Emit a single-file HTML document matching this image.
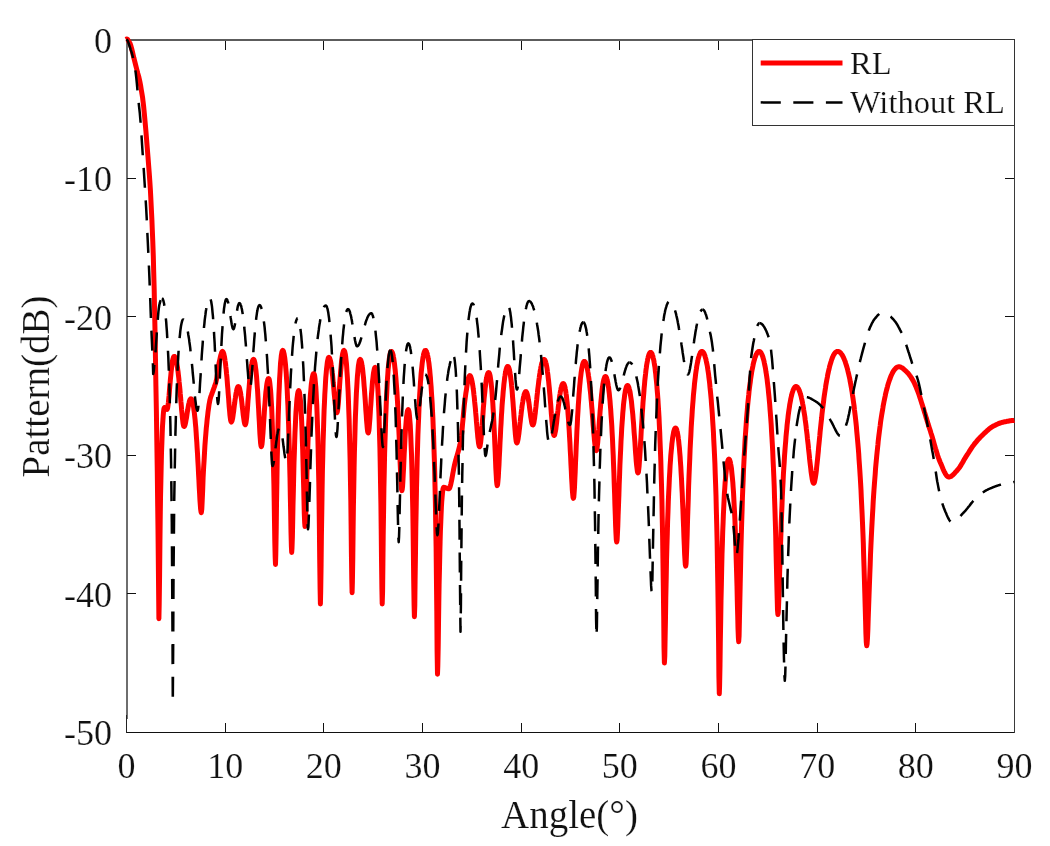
<!DOCTYPE html>
<html><head><meta charset="utf-8"><style>
html,body{margin:0;padding:0;background:#fff;}
svg{display:block;will-change:transform;font-family:"Liberation Serif", serif;fill:#000;}
text{font-family:"Liberation Serif", serif;fill:#111;stroke:#fff;stroke-width:0.2px;}
</style></head><body>
<svg width="1050" height="846" viewBox="0 0 1050 846"><rect width="1050" height="846" fill="#fff"/><rect x="126" y="39" width="889" height="2" fill="#5c5c5c"/><rect x="126" y="732" width="889" height="1" fill="#111"/><rect x="126" y="39" width="2" height="680" fill="#6e6e6e"/><rect x="126" y="715" width="1" height="18" fill="#222"/><rect x="1014" y="39" width="1" height="694" fill="#3a3a3a"/><rect x="225" y="723" width="1" height="9" fill="#111"/><rect x="225" y="41" width="1" height="9" fill="#111"/><rect x="323" y="723" width="1" height="9" fill="#111"/><rect x="323" y="41" width="1" height="9" fill="#111"/><rect x="422" y="723" width="1" height="9" fill="#111"/><rect x="422" y="41" width="1" height="9" fill="#111"/><rect x="521" y="723" width="1" height="9" fill="#111"/><rect x="521" y="41" width="1" height="9" fill="#111"/><rect x="619" y="723" width="1" height="9" fill="#111"/><rect x="619" y="41" width="1" height="9" fill="#111"/><rect x="718" y="723" width="1" height="9" fill="#111"/><rect x="718" y="41" width="1" height="9" fill="#111"/><rect x="817" y="723" width="1" height="9" fill="#111"/><rect x="817" y="41" width="1" height="9" fill="#111"/><rect x="915" y="723" width="1" height="9" fill="#111"/><rect x="915" y="41" width="1" height="9" fill="#111"/><rect x="127" y="178" width="9" height="1" fill="#111"/><rect x="1005" y="178" width="9" height="1" fill="#111"/><rect x="127" y="316" width="9" height="1" fill="#111"/><rect x="1005" y="316" width="9" height="1" fill="#111"/><rect x="127" y="455" width="9" height="1" fill="#111"/><rect x="1005" y="455" width="9" height="1" fill="#111"/><rect x="127" y="593" width="9" height="1" fill="#111"/><rect x="1005" y="593" width="9" height="1" fill="#111"/><defs><clipPath id="c"><rect x="120" y="30" width="895" height="703"/></clipPath></defs><g clip-path="url(#c)" fill="none" stroke-linejoin="round"><path d="M125.8 39.5L126.2 39.3L126.7 39.0L127.3 39.1L127.8 39.7L128.4 40.7L129.0 41.8L129.6 42.7L130.2 43.8L130.9 45.8L131.8 49.2L132.8 53.4L133.8 57.7L134.8 61.6L135.8 65.6L136.8 69.5L137.8 73.4L138.9 77.3L139.8 81.3L140.6 85.5L141.3 89.8L142.0 94.0L142.6 97.6L143.0 101.1L143.6 106.0L144.3 113.3L145.1 122.1L145.9 131.0L146.6 139.7L147.3 148.4L148.0 157.0L148.6 165.0L149.2 172.7L149.8 181.0L150.4 190.2L150.9 199.9L151.4 210.0L151.9 219.9L152.3 230.0L152.8 242.0L153.3 256.0L153.7 271.8L154.2 290.0L154.6 311.3L155.1 335.1L155.5 360.0L155.9 385.6L156.4 412.2L156.8 440.0L157.3 472.6L157.7 506.3L158.0 530.0L158.9 618.7L159.2 604.0L159.6 574.2L159.9 544.5L160.2 519.1L160.5 497.9L160.9 480.2L161.2 465.4L161.5 452.9L161.9 442.4L162.2 433.6L162.5 426.3L162.9 420.4L163.2 415.6L163.5 412.0L163.8 409.5L164.2 408.0L164.5 407.5L164.8 407.5L165.0 407.7L165.2 407.9L165.5 408.2L165.8 408.5L166.0 408.8L166.2 409.1L166.5 409.3L166.8 409.5L167.0 409.5L167.3 409.0L167.7 407.6L168.0 405.4L168.4 402.5L168.7 399.1L169.1 395.3L169.4 391.3L169.7 387.2L170.1 383.1L170.4 379.2L170.8 375.4L171.1 372.0L171.5 368.8L171.8 365.9L172.1 363.4L172.5 361.3L172.8 359.5L173.2 358.2L173.5 357.2L173.9 356.6L174.2 356.4L174.6 356.5L174.9 356.9L175.3 357.6L175.6 358.5L176.0 359.7L176.3 361.1L176.7 362.8L177.0 364.7L177.4 367.0L177.7 369.4L178.1 372.2L178.4 375.1L178.8 378.3L179.1 381.8L179.5 385.4L179.9 389.2L180.2 393.2L180.6 397.3L180.9 401.5L181.3 405.6L181.6 409.7L182.0 413.5L182.3 417.1L182.7 420.3L183.0 422.9L183.4 424.9L183.7 426.1L184.1 426.5L184.4 426.3L184.7 425.7L185.1 424.8L185.4 423.5L185.7 422.0L186.0 420.2L186.4 418.3L186.7 416.3L187.0 414.2L187.3 412.1L187.7 410.1L188.0 408.1L188.3 406.3L188.6 404.6L189.0 403.1L189.3 401.8L189.6 400.8L189.9 399.9L190.3 399.3L190.6 398.9L190.9 398.8L191.2 398.9L191.6 399.4L191.9 400.1L192.3 401.0L192.6 402.3L193.0 403.9L193.3 405.7L193.7 407.9L194.0 410.4L194.4 413.2L194.7 416.3L195.1 419.7L195.4 423.5L195.8 427.6L196.1 432.0L196.4 436.9L196.8 442.1L197.1 447.6L197.5 453.5L197.8 459.7L198.2 466.3L198.5 473.0L198.9 479.9L199.2 486.7L199.6 493.3L199.9 499.5L200.3 504.8L200.6 509.0L201.0 511.7L201.3 512.6L201.8 509.2L202.2 500.6L202.7 489.3L203.1 477.6L203.6 468.0L204.1 460.4L204.5 453.0L204.9 445.8L205.4 439.1L205.9 433.1L206.3 428.0L206.8 423.4L207.2 419.1L207.7 415.0L208.1 411.3L208.6 407.8L209.0 404.8L209.5 402.2L209.9 400.0L210.4 398.2L210.8 396.7L211.3 395.4L211.7 394.2L212.2 393.0L212.6 391.8L213.1 390.5L213.5 389.3L213.9 388.2L214.3 387.1L214.7 385.9L215.1 384.7L215.5 383.5L215.9 382.1L216.3 380.5L216.8 378.3L217.2 375.5L217.7 372.4L218.1 369.2L218.6 366.1L219.0 363.3L219.5 361.0L219.9 359.2L220.3 357.3L220.7 355.5L221.2 353.9L221.6 352.6L222.0 351.7L222.4 351.4L222.7 351.6L223.1 352.0L223.4 352.8L223.8 353.8L224.1 355.2L224.5 356.9L224.8 358.8L225.1 361.1L225.5 363.7L225.8 366.6L226.2 369.7L226.5 373.2L226.9 376.9L227.2 380.8L227.5 385.0L227.9 389.3L228.2 393.8L228.6 398.3L228.9 402.8L229.2 407.1L229.6 411.1L229.9 414.8L230.3 417.8L230.6 420.1L231.0 421.5L231.3 422.0L231.6 421.7L232.0 420.9L232.3 419.7L232.7 417.9L233.0 415.9L233.3 413.5L233.7 411.0L234.0 408.3L234.3 405.6L234.7 403.0L235.0 400.4L235.4 397.9L235.7 395.7L236.0 393.6L236.4 391.8L236.7 390.2L237.0 388.9L237.4 387.8L237.7 387.1L238.1 386.6L238.4 386.5L238.7 386.7L239.1 387.1L239.4 387.9L239.7 389.0L240.0 390.4L240.4 392.1L240.7 394.0L241.0 396.2L241.4 398.6L241.7 401.3L242.0 404.0L242.3 406.9L242.7 409.8L243.0 412.7L243.3 415.4L243.7 418.0L244.0 420.2L244.3 422.1L244.6 423.5L245.0 424.4L245.3 424.7L245.6 424.2L246.0 422.7L246.3 420.4L246.7 417.3L247.0 413.6L247.4 409.5L247.7 405.2L248.0 400.7L248.4 396.2L248.7 391.8L249.1 387.6L249.4 383.6L249.7 379.8L250.1 376.3L250.4 373.2L250.8 370.3L251.1 367.7L251.4 365.5L251.8 363.7L252.1 362.1L252.5 360.9L252.8 360.1L253.2 359.6L253.5 359.4L253.8 359.6L254.2 360.3L254.5 361.3L254.9 362.8L255.2 364.8L255.5 367.2L255.9 370.0L256.2 373.3L256.6 377.1L256.9 381.3L257.2 385.9L257.6 391.0L257.9 396.5L258.2 402.4L258.6 408.6L258.9 415.1L259.3 421.6L259.6 427.9L259.9 433.9L260.3 439.1L260.6 443.2L261.0 445.8L261.3 446.7L261.6 446.1L262.0 444.2L262.3 441.2L262.6 437.4L263.0 432.9L263.3 428.0L263.6 423.0L264.0 417.8L264.3 412.8L264.6 408.0L265.0 403.4L265.3 399.2L265.6 395.3L265.9 391.8L266.3 388.7L266.6 386.0L266.9 383.7L267.3 381.8L267.6 380.4L267.9 379.3L268.3 378.7L268.6 378.5L268.9 378.8L269.3 379.8L269.6 381.4L269.9 383.7L270.2 386.7L270.6 390.4L270.9 394.9L271.2 400.2L271.6 406.4L271.9 413.6L272.2 421.8L272.5 431.2L272.9 441.9L273.2 454.2L273.5 468.2L273.9 484.1L274.2 502.0L274.5 521.6L274.8 541.4L275.2 557.8L275.5 564.5L275.8 554.0L276.2 530.5L276.5 505.0L276.9 481.6L277.2 461.3L277.6 443.9L277.9 428.9L278.2 415.9L278.6 404.6L278.9 394.8L279.3 386.3L279.6 378.9L280.0 372.6L280.3 367.1L280.6 362.5L281.0 358.8L281.3 355.7L281.7 353.4L282.0 351.7L282.4 350.7L282.7 350.4L283.0 350.6L283.4 351.2L283.7 352.3L284.1 353.8L284.4 355.8L284.8 358.2L285.1 361.1L285.5 364.5L285.8 368.4L286.2 372.8L286.5 377.9L286.9 383.6L287.2 390.0L287.5 397.2L287.9 405.2L288.2 414.2L288.6 424.2L288.9 435.4L289.3 448.0L289.6 462.1L290.0 477.8L290.3 495.2L290.7 513.8L291.0 532.0L291.4 546.6L291.7 552.4L292.0 548.0L292.4 536.4L292.7 521.2L293.0 505.2L293.4 489.8L293.7 475.6L294.0 462.8L294.4 451.4L294.7 441.3L295.0 432.4L295.4 424.5L295.7 417.7L296.0 411.7L296.4 406.6L296.7 402.2L297.0 398.6L297.4 395.7L297.7 393.4L298.0 391.9L298.4 390.9L298.7 390.6L299.0 391.0L299.4 392.1L299.7 393.9L300.0 396.6L300.4 400.0L300.7 404.2L301.0 409.4L301.4 415.4L301.7 422.4L302.0 430.5L302.3 439.7L302.7 450.0L303.0 461.6L303.3 474.2L303.7 487.8L304.0 501.4L304.3 513.9L304.7 523.1L305.0 526.5L305.3 524.0L305.7 517.0L306.0 507.1L306.4 495.6L306.7 483.7L307.0 472.0L307.4 460.9L307.7 450.6L308.0 441.1L308.4 432.3L308.7 424.4L309.1 417.2L309.4 410.6L309.7 404.7L310.1 399.5L310.4 394.7L310.8 390.5L311.1 386.8L311.4 383.6L311.8 380.9L312.1 378.6L312.4 376.8L312.8 375.3L313.1 374.3L313.5 373.7L313.8 373.5L314.1 373.9L314.5 375.0L314.8 376.8L315.1 379.4L315.4 382.8L315.8 387.0L316.1 392.2L316.4 398.3L316.8 405.5L317.1 413.9L317.4 423.7L317.8 435.0L318.1 448.2L318.4 463.7L318.8 481.9L319.1 503.5L319.4 529.3L319.7 559.2L320.1 589.2L320.4 604.0L320.7 591.4L321.1 564.4L321.4 536.3L321.8 511.3L322.1 489.9L322.4 471.6L322.8 455.8L323.1 442.0L323.5 430.0L323.8 419.5L324.1 410.1L324.5 401.9L324.8 394.6L325.2 388.1L325.5 382.4L325.8 377.4L326.2 373.0L326.5 369.2L326.9 366.0L327.2 363.3L327.5 361.2L327.9 359.5L328.2 358.3L328.6 357.6L328.9 357.4L329.2 357.6L329.6 358.0L329.9 358.8L330.2 359.9L330.6 361.3L330.9 362.9L331.2 364.9L331.6 367.2L331.9 369.7L332.2 372.6L332.6 375.6L332.9 378.9L333.2 382.4L333.6 386.0L333.9 389.7L334.2 393.5L334.6 397.2L334.9 400.7L335.2 404.0L335.6 406.9L335.9 409.3L336.2 411.2L336.6 412.3L336.9 412.7L337.2 412.1L337.6 410.3L337.9 407.5L338.3 403.9L338.6 399.6L338.9 395.0L339.3 390.2L339.6 385.3L339.9 380.6L340.3 376.0L340.6 371.7L341.0 367.8L341.3 364.2L341.6 361.0L342.0 358.2L342.3 355.8L342.6 353.9L343.0 352.4L343.3 351.3L343.7 350.6L344.0 350.4L344.3 350.7L344.7 351.4L345.0 352.7L345.4 354.5L345.7 356.8L346.0 359.7L346.4 363.2L346.7 367.3L347.0 372.1L347.4 377.6L347.7 383.9L348.1 391.0L348.4 399.1L348.7 408.3L349.1 418.8L349.4 430.7L349.7 444.3L350.1 460.0L350.4 478.3L350.8 499.7L351.1 524.7L351.4 552.9L351.8 580.0L352.1 592.8L352.4 581.7L352.8 557.2L353.1 530.7L353.4 506.8L353.8 486.0L354.1 468.1L354.4 452.6L354.8 439.2L355.1 427.4L355.4 417.0L355.8 407.9L356.1 399.9L356.4 392.8L356.8 386.5L357.1 381.1L357.4 376.3L357.8 372.2L358.1 368.7L358.4 365.8L358.8 363.5L359.1 361.7L359.4 360.4L359.8 359.7L360.1 359.4L360.4 359.6L360.8 360.1L361.1 361.0L361.5 362.3L361.8 364.0L362.1 366.0L362.5 368.3L362.8 371.1L363.1 374.2L363.5 377.6L363.8 381.4L364.1 385.6L364.5 390.0L364.8 394.7L365.2 399.7L365.5 404.7L365.8 409.9L366.2 414.9L366.5 419.7L366.9 424.0L367.2 427.7L367.5 430.6L367.9 432.4L368.2 433.0L368.5 432.3L368.9 430.4L369.2 427.4L369.5 423.5L369.9 418.9L370.2 414.0L370.5 408.9L370.9 403.7L371.2 398.7L371.5 393.9L371.9 389.5L372.2 385.4L372.5 381.6L372.9 378.3L373.2 375.4L373.5 373.0L373.9 371.0L374.2 369.4L374.5 368.3L374.9 367.6L375.2 367.4L375.5 367.7L375.9 368.7L376.2 370.4L376.5 372.8L376.9 375.8L377.2 379.7L377.5 384.3L377.9 389.8L378.2 396.3L378.5 403.8L378.9 412.4L379.2 422.4L379.5 434.0L379.9 447.4L380.2 463.0L380.5 481.3L380.9 503.1L381.2 529.0L381.5 559.0L381.9 589.2L382.2 604.0L382.6 591.1L382.9 563.7L383.2 535.3L383.6 510.1L383.9 488.6L384.3 470.2L384.6 454.2L385.0 440.4L385.4 428.3L385.7 417.6L386.1 408.1L386.4 399.7L386.8 392.2L387.1 385.5L387.4 379.6L387.8 374.4L388.1 369.8L388.5 365.8L388.9 362.3L389.2 359.4L389.6 356.9L389.9 354.9L390.2 353.4L390.6 352.3L390.9 351.6L391.3 351.4L391.7 351.5L392.0 352.0L392.4 352.7L392.7 353.8L393.1 355.1L393.4 356.8L393.8 358.8L394.1 361.1L394.5 363.8L394.8 366.8L395.2 370.1L395.5 373.8L395.9 378.0L396.2 382.5L396.6 387.4L397.0 392.8L397.3 398.7L397.7 405.0L398.0 411.9L398.4 419.2L398.7 427.0L399.1 435.3L399.4 444.0L399.8 453.0L400.1 462.0L400.5 470.7L400.8 478.6L401.2 485.0L401.5 489.2L401.9 490.7L402.2 489.5L402.6 486.2L402.9 481.2L403.2 474.9L403.6 467.9L403.9 460.7L404.2 453.6L404.6 446.8L404.9 440.4L405.2 434.6L405.5 429.3L405.9 424.7L406.2 420.6L406.5 417.3L406.9 414.5L407.2 412.3L407.5 410.8L407.9 409.9L408.2 409.6L408.5 410.0L408.9 411.2L409.2 413.2L409.5 416.1L409.8 419.8L410.2 424.5L410.5 430.2L410.8 436.9L411.1 444.9L411.5 454.2L411.8 465.1L412.1 477.8L412.4 492.7L412.8 510.1L413.1 530.5L413.4 554.2L413.7 580.7L414.1 605.4L414.4 616.7L414.8 605.1L415.1 579.8L415.5 552.7L415.8 528.3L416.2 507.0L416.5 488.6L416.9 472.6L417.2 458.6L417.6 446.1L417.9 435.1L418.3 425.2L418.7 416.3L419.0 408.3L419.4 401.0L419.7 394.4L420.1 388.5L420.4 383.1L420.8 378.2L421.1 373.8L421.5 369.9L421.9 366.3L422.2 363.2L422.6 360.4L422.9 358.0L423.3 356.0L423.6 354.3L424.0 352.9L424.3 351.8L424.7 351.0L425.0 350.6L425.4 350.4L425.8 350.5L426.1 350.9L426.5 351.6L426.8 352.5L427.2 353.6L427.5 355.1L427.9 356.8L428.2 358.8L428.6 361.1L429.0 363.7L429.3 366.6L429.7 369.8L430.0 373.4L430.4 377.4L430.7 381.8L431.1 386.6L431.4 391.8L431.8 397.6L432.2 403.9L432.5 410.8L432.9 418.5L433.2 426.9L433.6 436.2L433.9 446.5L434.3 458.1L434.7 471.1L435.0 485.9L435.4 503.0L435.7 523.0L436.1 546.8L436.4 575.8L436.8 611.3L437.1 651.3L437.5 674.2L437.8 666.0L438.2 646.7L438.5 624.4L438.8 603.3L439.1 584.4L439.5 568.1L439.8 553.9L440.1 541.7L440.4 531.1L440.8 522.0L441.1 514.2L441.4 507.5L441.7 502.0L442.1 497.4L442.4 493.7L442.7 490.9L443.0 488.9L443.4 487.7L443.7 487.3L444.0 487.3L444.3 487.4L444.7 487.4L445.0 487.5L445.3 487.6L445.6 487.8L445.9 487.9L446.2 488.0L446.6 488.2L446.9 488.3L447.2 488.5L447.5 488.6L447.8 488.7L448.2 488.7L448.5 488.8L448.8 488.8L449.2 488.6L449.6 488.0L450.0 487.0L450.4 485.7L450.8 484.1L451.2 482.3L451.6 480.4L452.0 478.3L452.4 476.1L452.8 473.8L453.2 471.6L453.6 469.5L454.0 467.4L454.4 465.4L454.8 463.7L455.2 462.1L455.6 460.5L456.0 459.1L456.5 457.6L456.9 456.2L457.3 454.8L457.7 453.4L458.1 452.0L458.5 450.5L458.9 448.9L459.3 447.2L459.8 445.4L460.2 443.4L460.6 441.2L461.0 438.9L461.4 436.0L461.8 432.3L462.2 428.0L462.6 423.4L463.1 418.5L463.5 413.8L463.9 409.3L464.3 405.3L464.7 402.0L465.1 399.0L465.5 396.0L465.9 392.9L466.4 390.0L466.8 387.1L467.2 384.4L467.6 382.0L468.0 379.8L468.4 378.1L468.9 376.7L469.3 375.9L469.7 375.6L470.1 375.7L470.4 376.1L470.8 376.8L471.1 377.7L471.5 378.9L471.8 380.3L472.2 382.0L472.5 384.0L472.9 386.2L473.2 388.7L473.6 391.5L473.9 394.5L474.3 397.7L474.6 401.2L475.0 404.9L475.4 408.8L475.7 412.8L476.1 416.9L476.4 421.2L476.8 425.4L477.1 429.5L477.5 433.4L477.8 437.1L478.2 440.3L478.5 443.0L478.9 445.0L479.2 446.3L479.6 446.7L480.0 446.2L480.3 444.6L480.7 442.1L481.0 438.9L481.4 435.0L481.7 430.6L482.1 426.0L482.4 421.3L482.8 416.5L483.1 411.8L483.4 407.3L483.8 402.9L484.1 398.8L484.5 395.0L484.9 391.4L485.2 388.1L485.6 385.2L485.9 382.5L486.2 380.1L486.6 378.1L486.9 376.4L487.3 375.0L487.6 373.9L488.0 373.1L488.3 372.7L488.7 372.5L489.0 372.7L489.4 373.3L489.7 374.3L490.1 375.7L490.4 377.6L490.7 379.8L491.1 382.5L491.4 385.7L491.8 389.3L492.1 393.3L492.4 397.9L492.8 402.9L493.1 408.5L493.5 414.6L493.8 421.2L494.1 428.2L494.5 435.8L494.8 443.7L495.2 451.8L495.5 460.0L495.8 467.8L496.2 474.9L496.5 480.6L496.9 484.3L497.2 485.6L497.6 484.6L497.9 481.6L498.3 477.0L498.6 471.2L499.0 464.5L499.3 457.4L499.7 450.1L500.0 442.9L500.4 435.8L500.7 429.0L501.1 422.5L501.4 416.4L501.8 410.6L502.1 405.3L502.5 400.3L502.9 395.7L503.2 391.5L503.6 387.7L503.9 384.2L504.3 381.0L504.6 378.2L505.0 375.7L505.3 373.5L505.7 371.6L506.0 370.0L506.4 368.7L506.7 367.7L507.1 367.0L507.4 366.5L507.8 366.4L508.1 366.6L508.5 367.0L508.8 367.8L509.2 368.9L509.5 370.4L509.9 372.1L510.2 374.2L510.6 376.6L510.9 379.3L511.3 382.3L511.6 385.7L512.0 389.3L512.3 393.3L512.6 397.5L513.0 402.0L513.3 406.6L513.7 411.5L514.0 416.4L514.4 421.3L514.7 426.1L515.1 430.7L515.4 434.7L515.8 438.2L516.1 440.8L516.5 442.4L516.8 443.0L517.1 442.7L517.5 441.8L517.8 440.4L518.2 438.5L518.5 436.2L518.9 433.6L519.2 430.7L519.6 427.6L519.9 424.4L520.3 421.2L520.6 418.1L521.0 415.0L521.3 412.0L521.7 409.1L522.0 406.4L522.4 403.9L522.8 401.6L523.1 399.6L523.4 397.7L523.8 396.1L524.1 394.7L524.5 393.6L524.9 392.7L525.2 392.1L525.5 391.7L525.9 391.6L526.2 391.7L526.6 392.2L526.9 392.9L527.2 393.9L527.5 395.1L527.9 396.6L528.2 398.4L528.5 400.3L528.9 402.5L529.2 404.8L529.5 407.2L529.8 409.7L530.2 412.3L530.5 414.8L530.8 417.1L531.2 419.3L531.5 421.2L531.8 422.8L532.1 424.0L532.5 424.8L532.8 425.0L533.2 424.7L533.5 423.9L533.9 422.5L534.2 420.6L534.6 418.4L534.9 415.7L535.3 412.8L535.6 409.7L536.0 406.5L536.3 403.1L536.7 399.7L537.0 396.4L537.4 393.0L537.7 389.8L538.1 386.7L538.5 383.7L538.8 380.8L539.2 378.1L539.5 375.6L539.9 373.2L540.2 371.0L540.6 369.0L540.9 367.2L541.3 365.6L541.6 364.1L542.0 362.9L542.3 361.8L542.7 360.9L543.0 360.3L543.4 359.8L543.7 359.5L544.1 359.4L544.4 359.5L544.8 359.9L545.1 360.5L545.5 361.4L545.8 362.6L546.2 364.0L546.5 365.6L546.9 367.5L547.2 369.7L547.5 372.1L547.9 374.8L548.2 377.7L548.6 380.9L548.9 384.3L549.3 388.0L549.6 391.8L550.0 395.9L550.3 400.1L550.7 404.4L551.0 408.8L551.3 413.2L551.7 417.5L552.0 421.6L552.4 425.4L552.7 428.7L553.1 431.5L553.4 433.6L553.8 435.0L554.1 435.4L554.5 435.1L554.8 434.2L555.1 432.8L555.5 430.9L555.9 428.5L556.2 425.8L556.6 422.9L556.9 419.8L557.2 416.6L557.6 413.4L558.0 410.2L558.3 407.0L558.7 404.0L559.0 401.1L559.4 398.4L559.7 395.9L560.1 393.6L560.4 391.5L560.8 389.7L561.1 388.0L561.5 386.7L561.8 385.5L562.2 384.6L562.5 384.0L562.9 383.6L563.2 383.5L563.6 383.7L563.9 384.1L564.3 384.9L564.6 385.9L565.0 387.3L565.3 389.0L565.7 391.0L566.0 393.3L566.4 395.9L566.7 398.9L567.1 402.3L567.4 406.0L567.8 410.1L568.1 414.5L568.5 419.3L568.8 424.6L569.2 430.2L569.5 436.2L569.9 442.5L570.2 449.3L570.6 456.2L570.9 463.4L571.3 470.6L571.6 477.6L572.0 484.1L572.3 489.9L572.7 494.4L573.0 497.3L573.4 498.3L573.8 497.0L574.1 493.1L574.5 487.3L574.8 480.1L575.2 472.0L575.5 463.5L575.9 455.0L576.2 446.7L576.6 438.7L576.9 431.1L577.3 423.9L577.6 417.2L578.0 410.9L578.3 405.1L578.7 399.7L579.0 394.8L579.4 390.2L579.7 386.0L580.1 382.2L580.4 378.8L580.8 375.7L581.1 372.9L581.5 370.4L581.8 368.3L582.2 366.4L582.5 364.9L582.9 363.6L583.2 362.7L583.6 362.0L583.9 361.5L584.3 361.4L584.7 361.5L585.0 361.8L585.4 362.3L585.7 363.0L586.1 363.9L586.4 365.0L586.8 366.3L587.1 367.8L587.5 369.5L587.8 371.4L588.2 373.6L588.5 375.9L588.9 378.5L589.2 381.2L589.6 384.2L589.9 387.4L590.3 390.8L590.7 394.4L591.0 398.2L591.4 402.2L591.7 406.3L592.1 410.6L592.4 415.0L592.8 419.5L593.1 424.0L593.5 428.5L593.8 432.8L594.2 436.9L594.5 440.7L594.9 444.1L595.2 446.8L595.6 448.9L595.9 450.2L596.3 450.6L596.6 450.1L597.0 448.5L597.3 446.0L597.7 442.8L598.0 438.9L598.4 434.6L598.8 430.0L599.1 425.2L599.4 420.5L599.8 415.8L600.1 411.3L600.5 406.9L600.8 402.8L601.2 398.9L601.5 395.4L601.9 392.1L602.2 389.1L602.6 386.5L602.9 384.1L603.3 382.1L603.6 380.4L604.0 379.0L604.4 377.9L604.7 377.1L605.0 376.7L605.4 376.5L605.8 376.6L606.1 377.0L606.5 377.7L606.8 378.7L607.2 379.9L607.5 381.4L607.9 383.3L608.2 385.4L608.6 387.8L608.9 390.5L609.3 393.6L609.6 397.0L610.0 400.8L610.3 404.9L610.7 409.5L611.0 414.5L611.4 419.9L611.8 425.8L612.1 432.2L612.5 439.2L612.8 446.7L613.2 454.8L613.5 463.6L613.9 473.0L614.2 483.1L614.6 493.6L614.9 504.5L615.3 515.3L615.6 525.5L616.0 534.1L616.3 539.9L616.7 542.0L617.1 540.0L617.4 534.3L617.8 526.0L618.1 516.0L618.5 505.4L618.9 494.8L619.2 484.4L619.6 474.6L619.9 465.4L620.3 456.8L620.7 448.9L621.0 441.5L621.4 434.8L621.7 428.6L622.1 422.9L622.5 417.7L622.8 413.0L623.2 408.7L623.5 404.8L623.9 401.3L624.3 398.2L624.6 395.5L625.0 393.1L625.3 391.1L625.7 389.4L626.1 388.0L626.4 386.9L626.8 386.1L627.1 385.7L627.5 385.5L627.9 385.6L628.2 386.0L628.5 386.6L628.9 387.5L629.2 388.7L629.6 390.1L630.0 391.7L630.3 393.7L630.6 395.8L631.0 398.3L631.4 401.0L631.7 404.0L632.0 407.2L632.4 410.8L632.8 414.6L633.1 418.6L633.5 422.9L633.8 427.4L634.1 432.1L634.5 436.9L634.9 441.9L635.2 446.9L635.5 451.8L635.9 456.5L636.2 461.0L636.6 464.9L637.0 468.3L637.3 470.8L637.6 472.4L638.0 472.9L638.4 472.1L638.7 469.9L639.1 466.3L639.4 461.7L639.8 456.3L640.2 450.4L640.5 444.2L640.9 437.8L641.2 431.5L641.6 425.3L642.0 419.2L642.3 413.4L642.7 407.9L643.0 402.6L643.4 397.7L643.8 393.0L644.1 388.6L644.5 384.5L644.8 380.6L645.2 377.1L645.6 373.8L645.9 370.7L646.3 367.9L646.6 365.4L647.0 363.1L647.4 361.0L647.7 359.2L648.1 357.6L648.4 356.2L648.8 355.0L649.2 354.1L649.5 353.3L649.9 352.8L650.2 352.5L650.6 352.4L651.0 352.5L651.3 352.8L651.7 353.3L652.1 354.0L652.4 355.0L652.8 356.1L653.1 357.5L653.5 359.1L653.9 360.9L654.2 362.9L654.6 365.2L655.0 367.7L655.3 370.6L655.7 373.6L656.0 377.0L656.4 380.7L656.8 384.7L657.1 389.0L657.5 393.7L657.9 398.9L658.2 404.4L658.6 410.5L659.0 417.0L659.3 424.2L659.7 432.0L660.0 440.6L660.4 450.0L660.8 460.4L661.1 471.9L661.5 484.9L661.9 499.5L662.2 516.2L662.6 535.6L662.9 558.2L663.3 585.0L663.7 616.0L664.0 647.4L664.4 663.0L664.8 655.9L665.1 638.7L665.5 617.9L665.8 597.4L666.2 578.7L666.5 561.9L666.9 547.0L667.3 533.7L667.6 521.8L668.0 511.2L668.3 501.6L668.7 492.9L669.1 485.1L669.4 478.0L669.8 471.5L670.1 465.6L670.5 460.3L670.8 455.5L671.2 451.2L671.6 447.3L671.9 443.8L672.3 440.7L672.6 437.9L673.0 435.6L673.4 433.5L673.7 431.8L674.1 430.4L674.4 429.4L674.8 428.6L675.1 428.2L675.5 428.0L675.9 428.2L676.2 428.6L676.6 429.4L676.9 430.6L677.3 432.0L677.6 433.8L678.0 435.9L678.3 438.4L678.7 441.2L679.0 444.4L679.4 448.0L679.7 452.0L680.1 456.5L680.4 461.3L680.8 466.6L681.1 472.5L681.5 478.8L681.8 485.6L682.2 492.9L682.5 500.8L682.9 509.2L683.2 518.0L683.6 527.2L683.9 536.4L684.3 545.3L684.6 553.5L685.0 560.1L685.3 564.5L685.7 566.1L686.1 563.5L686.4 556.4L686.8 546.1L687.2 534.2L687.5 521.8L687.9 509.6L688.3 497.9L688.6 486.8L689.0 476.4L689.4 466.8L689.8 457.8L690.1 449.5L690.5 441.7L690.9 434.5L691.2 427.7L691.6 421.4L692.0 415.5L692.3 410.0L692.7 404.9L693.1 400.1L693.4 395.6L693.8 391.4L694.2 387.5L694.5 383.8L694.9 380.4L695.3 377.2L695.6 374.3L696.0 371.5L696.4 368.9L696.7 366.6L697.1 364.4L697.5 362.4L697.9 360.6L698.2 359.0L698.6 357.5L699.0 356.2L699.3 355.1L699.7 354.1L700.1 353.3L700.4 352.6L700.8 352.1L701.2 351.7L701.5 351.5L701.9 351.4L702.3 351.5L702.6 351.7L703.0 352.0L703.4 352.5L703.8 353.1L704.1 353.8L704.5 354.7L704.9 355.7L705.2 356.9L705.6 358.2L706.0 359.7L706.3 361.3L706.7 363.1L707.1 365.0L707.5 367.1L707.8 369.4L708.2 371.9L708.6 374.5L708.9 377.4L709.3 380.4L709.7 383.7L710.0 387.2L710.4 390.9L710.8 394.9L711.2 399.2L711.5 403.8L711.9 408.6L712.3 413.9L712.6 419.5L713.0 425.5L713.4 431.9L713.7 438.9L714.1 446.4L714.5 454.6L714.9 463.4L715.2 473.2L715.6 483.8L716.0 495.7L716.3 508.9L716.7 523.8L717.1 540.8L717.4 560.5L717.8 583.6L718.2 611.0L718.6 643.2L718.9 676.6L719.3 693.8L719.6 685.3L720.0 665.2L720.3 642.1L720.7 620.2L721.0 600.5L721.4 583.2L721.7 568.0L722.0 554.5L722.4 542.6L722.7 532.0L723.1 522.5L723.4 514.1L723.8 506.4L724.1 499.6L724.4 493.4L724.8 487.9L725.1 483.0L725.5 478.6L725.8 474.8L726.2 471.4L726.5 468.4L726.8 465.9L727.2 463.8L727.5 462.1L727.9 460.8L728.2 459.8L728.6 459.3L728.9 459.1L729.2 459.3L729.6 459.8L729.9 460.7L730.3 462.0L730.6 463.7L731.0 465.7L731.4 468.1L731.7 471.0L732.0 474.3L732.4 478.0L732.8 482.2L733.1 486.9L733.5 492.1L733.8 498.0L734.1 504.4L734.5 511.6L734.9 519.4L735.2 528.1L735.6 537.7L735.9 548.2L736.2 559.8L736.6 572.5L737.0 586.1L737.3 600.6L737.7 615.1L738.0 628.4L738.4 638.1L738.7 641.7L739.1 635.9L739.4 621.3L739.8 602.9L740.2 584.0L740.6 566.2L740.9 549.9L741.3 535.1L741.7 521.7L742.1 509.6L742.4 498.4L742.8 488.3L743.2 478.9L743.5 470.3L743.9 462.3L744.3 454.8L744.7 447.9L745.0 441.4L745.4 435.3L745.8 429.6L746.2 424.2L746.5 419.2L746.9 414.4L747.3 409.9L747.6 405.7L748.0 401.7L748.4 397.9L748.8 394.3L749.1 390.9L749.5 387.7L749.9 384.7L750.3 381.9L750.6 379.2L751.0 376.6L751.4 374.2L751.7 372.0L752.1 369.9L752.5 367.9L752.9 366.0L753.2 364.3L753.6 362.7L754.0 361.2L754.4 359.8L754.7 358.5L755.1 357.4L755.5 356.3L755.8 355.4L756.2 354.5L756.6 353.8L757.0 353.2L757.3 352.6L757.7 352.2L758.1 351.8L758.5 351.6L758.8 351.4L759.2 351.4L759.6 351.5L759.9 351.6L760.3 351.9L760.7 352.3L761.1 352.9L761.4 353.5L761.8 354.3L762.2 355.2L762.6 356.2L762.9 357.4L763.3 358.6L763.7 360.0L764.1 361.6L764.4 363.3L764.8 365.1L765.2 367.1L765.6 369.2L765.9 371.5L766.3 373.9L766.7 376.5L767.1 379.3L767.4 382.2L767.8 385.4L768.2 388.8L768.5 392.3L768.9 396.1L769.3 400.2L769.7 404.5L770.0 409.0L770.4 413.9L770.8 419.1L771.2 424.6L771.5 430.5L771.9 436.8L772.3 443.6L772.7 450.8L773.0 458.6L773.4 467.0L773.8 476.1L774.2 485.9L774.5 496.6L774.9 508.3L775.3 521.1L775.7 535.0L776.0 550.1L776.4 566.3L776.8 582.9L777.2 598.4L777.5 610.1L777.9 614.6L778.3 612.0L778.6 604.7L779.0 594.4L779.4 582.4L779.7 569.8L780.1 557.5L780.5 545.6L780.9 534.5L781.2 524.0L781.6 514.2L782.0 505.1L782.3 496.7L782.7 488.7L783.1 481.4L783.4 474.5L783.8 468.0L784.2 462.0L784.5 456.3L784.9 451.0L785.3 445.9L785.7 441.2L786.0 436.8L786.4 432.6L786.8 428.7L787.1 425.0L787.5 421.6L787.9 418.3L788.2 415.3L788.6 412.4L789.0 409.7L789.4 407.2L789.7 404.8L790.1 402.6L790.5 400.6L790.8 398.7L791.2 397.0L791.6 395.4L791.9 394.0L792.3 392.6L792.7 391.5L793.0 390.4L793.4 389.5L793.8 388.7L794.2 388.0L794.5 387.5L794.9 387.0L795.3 386.7L795.6 386.6L796.0 386.5L796.4 386.6L796.7 386.7L797.1 387.0L797.5 387.3L797.8 387.8L798.2 388.4L798.6 389.0L799.0 389.8L799.3 390.7L799.7 391.7L800.1 392.8L800.4 394.0L800.8 395.3L801.2 396.7L801.5 398.3L801.9 399.9L802.3 401.7L802.6 403.5L803.0 405.5L803.4 407.6L803.7 409.9L804.1 412.2L804.5 414.6L804.9 417.2L805.2 419.9L805.6 422.7L806.0 425.6L806.3 428.6L806.7 431.7L807.1 434.9L807.4 438.2L807.8 441.6L808.2 445.0L808.5 448.5L808.9 452.0L809.3 455.5L809.6 459.0L810.0 462.4L810.4 465.8L810.8 468.9L811.1 471.9L811.5 474.7L811.9 477.1L812.2 479.2L812.6 480.9L813.0 482.2L813.3 482.9L813.7 483.2L814.1 482.9L814.5 482.0L814.8 480.6L815.2 478.6L815.6 476.2L816.0 473.4L816.4 470.3L816.7 466.9L817.1 463.2L817.5 459.5L817.9 455.6L818.3 451.6L818.6 447.6L819.0 443.7L819.4 439.7L819.8 435.8L820.1 432.0L820.5 428.2L820.9 424.5L821.3 420.9L821.7 417.4L822.0 414.0L822.4 410.7L822.8 407.5L823.2 404.4L823.6 401.4L823.9 398.5L824.3 395.7L824.7 393.0L825.1 390.4L825.5 387.9L825.8 385.5L826.2 383.2L826.6 381.0L827.0 378.9L827.4 376.9L827.7 374.9L828.1 373.1L828.5 371.3L828.9 369.6L829.3 368.0L829.6 366.5L830.0 365.1L830.4 363.7L830.8 362.4L831.2 361.2L831.5 360.1L831.9 359.0L832.3 358.0L832.7 357.1L833.0 356.2L833.4 355.5L833.8 354.7L834.2 354.1L834.6 353.5L834.9 353.0L835.3 352.6L835.7 352.2L836.1 351.9L836.5 351.7L836.8 351.5L837.2 351.4L837.6 351.4L838.0 351.4L838.4 351.5L838.7 351.6L839.1 351.8L839.5 352.0L839.9 352.3L840.3 352.7L840.7 353.0L841.0 353.5L841.4 354.0L841.8 354.5L842.2 355.1L842.6 355.8L843.0 356.5L843.3 357.2L843.7 358.0L844.1 358.9L844.5 359.9L844.9 360.8L845.3 361.9L845.6 363.0L846.0 364.2L846.4 365.4L846.8 366.7L847.2 368.1L847.6 369.5L847.9 371.0L848.3 372.6L848.7 374.2L849.1 376.0L849.5 377.7L849.9 379.6L850.2 381.6L850.6 383.6L851.0 385.7L851.4 387.9L851.8 390.2L852.2 392.6L852.5 395.1L852.9 397.7L853.3 400.5L853.7 403.3L854.1 406.2L854.4 409.3L854.8 412.5L855.2 415.8L855.6 419.3L856.0 422.9L856.4 426.7L856.7 430.7L857.1 434.9L857.5 439.2L857.9 443.8L858.3 448.5L858.7 453.5L859.0 458.8L859.4 464.4L859.8 470.2L860.2 476.4L860.6 483.0L861.0 490.0L861.3 497.4L861.7 505.3L862.1 513.7L862.5 522.8L862.9 532.5L863.3 542.9L863.6 554.1L864.0 566.2L864.4 579.2L864.8 592.9L865.2 607.1L865.6 621.1L865.9 633.5L866.3 642.5L866.7 645.8L867.1 643.7L867.5 637.8L867.9 629.0L868.2 618.6L868.6 607.4L869.0 596.1L869.4 585.1L869.8 574.5L870.2 564.4L870.5 554.8L870.9 545.8L871.3 537.3L871.7 529.3L872.1 521.8L872.5 514.7L872.9 507.9L873.2 501.6L873.6 495.5L874.0 489.7L874.4 484.3L874.8 479.1L875.2 474.1L875.5 469.3L875.9 464.8L876.3 460.4L876.7 456.3L877.1 452.3L877.5 448.5L877.9 444.8L878.2 441.3L878.6 437.9L879.0 434.6L879.4 431.5L879.8 428.4L880.2 425.5L880.5 422.7L880.9 420.0L881.3 417.4L881.7 414.9L882.1 412.5L882.5 410.2L882.9 407.9L883.2 405.7L883.6 403.7L884.0 401.6L884.4 399.7L884.8 397.8L885.2 396.0L885.5 394.3L885.9 392.6L886.3 391.0L886.7 389.5L887.1 388.0L887.5 386.6L887.8 385.2L888.2 383.9L888.6 382.7L889.0 381.5L889.4 380.3L889.8 379.2L890.2 378.2L890.5 377.2L890.9 376.2L891.3 375.3L891.7 374.5L892.1 373.7L892.5 372.9L892.8 372.2L893.2 371.5L893.6 370.9L894.0 370.4L894.4 369.8L894.8 369.3L895.2 368.9L895.5 368.5L895.9 368.1L896.3 367.8L896.7 367.6L897.1 367.3L897.5 367.1L897.8 367.0L898.2 366.9L898.6 366.8L899.0 366.8L899.4 366.8L899.8 366.9L900.2 367.0L900.6 367.1L901.0 367.3L901.5 367.5L901.9 367.8L902.3 368.0L902.7 368.3L903.1 368.6L903.5 369.0L903.9 369.3L904.3 369.7L904.7 370.1L905.2 370.4L905.6 370.8L906.0 371.2L906.4 371.6L906.8 372.0L907.2 372.4L907.6 372.8L908.0 373.3L908.5 373.7L908.9 374.2L909.3 374.8L909.7 375.4L910.2 375.9L910.6 376.6L911.0 377.2L911.4 377.9L911.8 378.5L912.3 379.3L912.7 380.0L913.1 380.7L913.5 381.5L914.0 382.3L914.4 383.2L914.8 384.1L915.2 385.1L915.7 386.1L916.1 387.1L916.5 388.1L916.9 389.2L917.4 390.3L917.8 391.4L918.2 392.5L918.7 393.7L919.1 395.0L919.5 396.2L919.9 397.5L920.4 398.8L920.8 400.2L921.2 401.5L921.6 402.9L922.1 404.3L922.5 405.6L922.9 407.0L923.4 408.3L923.8 409.7L924.2 411.1L924.6 412.5L925.1 414.0L925.5 415.4L925.9 416.8L926.3 418.2L926.8 419.6L927.2 421.0L927.6 422.4L928.1 423.8L928.5 425.2L928.9 426.6L929.4 428.0L929.8 429.4L930.3 430.7L930.7 432.1L931.1 433.5L931.6 434.9L932.0 436.3L932.4 437.6L932.8 439.0L933.2 440.3L933.6 441.7L934.0 443.1L934.4 444.6L934.8 446.0L935.2 447.4L935.6 448.8L936.1 450.2L936.5 451.6L936.9 452.9L937.3 454.2L937.7 455.5L938.1 456.7L938.5 457.9L938.9 459.0L939.3 460.0L939.7 461.0L940.1 462.0L940.5 462.9L940.9 463.9L941.4 464.9L941.8 465.9L942.2 466.9L942.6 467.9L943.0 468.9L943.4 469.8L943.8 470.7L944.2 471.6L944.7 472.4L945.1 473.2L945.5 473.9L945.9 474.6L946.3 475.2L946.7 475.7L947.1 476.2L947.6 476.5L948.0 476.8L948.4 476.9L948.8 477.0L949.2 477.0L949.6 476.9L950.0 476.8L950.5 476.6L950.9 476.4L951.3 476.2L951.7 475.9L952.1 475.6L952.5 475.2L952.9 474.9L953.3 474.5L953.8 474.1L954.2 473.7L954.6 473.2L955.0 472.8L955.4 472.3L955.8 471.8L956.2 471.4L956.7 470.9L957.1 470.4L957.5 470.0L957.9 469.5L958.3 469.0L958.7 468.5L959.1 468.0L959.6 467.4L960.0 466.8L960.4 466.1L960.8 465.5L961.2 464.8L961.6 464.1L962.0 463.4L962.5 462.6L962.9 461.9L963.3 461.2L963.7 460.5L964.1 459.7L964.5 459.0L965.0 458.3L965.4 457.6L965.8 457.0L966.2 456.3L966.6 455.7L967.0 455.0L967.4 454.4L967.9 453.7L968.3 453.1L968.7 452.4L969.1 451.8L969.5 451.1L969.9 450.5L970.4 449.8L970.8 449.2L971.2 448.5L971.6 447.9L972.0 447.3L972.4 446.7L972.8 446.1L973.3 445.5L973.7 445.0L974.1 444.4L974.5 443.9L974.9 443.4L975.3 442.9L975.7 442.4L976.2 441.9L976.6 441.4L977.0 440.9L977.4 440.4L977.8 439.9L978.2 439.5L978.6 439.0L979.1 438.6L979.5 438.1L979.9 437.7L980.3 437.3L980.7 436.8L981.1 436.4L981.6 436.0L982.0 435.6L982.4 435.2L982.8 434.8L983.2 434.4L983.6 434.0L984.0 433.6L984.4 433.2L984.9 432.8L985.3 432.4L985.7 432.0L986.1 431.7L986.5 431.3L986.9 430.9L987.3 430.5L987.8 430.2L988.2 429.8L988.6 429.5L989.0 429.1L989.4 428.8L989.8 428.5L990.2 428.1L990.6 427.8L991.1 427.5L991.5 427.3L991.9 427.0L992.3 426.7L992.7 426.5L993.1 426.3L993.5 426.0L993.9 425.8L994.4 425.6L994.8 425.4L995.2 425.2L995.6 425.0L996.0 424.8L996.4 424.6L996.8 424.4L997.2 424.2L997.7 424.0L998.1 423.8L998.5 423.6L998.9 423.5L999.3 423.3L999.7 423.2L1000.1 423.0L1000.5 422.9L1001.0 422.7L1001.4 422.6L1001.8 422.5L1002.2 422.4L1002.6 422.3L1003.0 422.2L1003.4 422.1L1003.8 422.0L1004.2 421.9L1004.6 421.8L1005.0 421.8L1005.4 421.7L1005.8 421.6L1006.3 421.5L1006.7 421.4L1007.1 421.3L1007.5 421.3L1007.9 421.2L1008.3 421.1L1008.7 421.0L1009.1 421.0L1009.5 420.9L1009.9 420.8L1010.3 420.8L1010.7 420.7L1011.1 420.6L1011.5 420.6L1011.9 420.5L1012.3 420.5L1012.8 420.5L1013.2 420.4L1013.6 420.4L1014.0 420.4L1014.4 420.3" stroke="#ff0000" stroke-width="5"/><path d="M126.3 39.5L126.7 39.7L127.3 40.2L127.9 41.1L128.5 42.8L129.2 45.0L130.0 47.5L130.8 50.1L131.8 52.9L132.7 56.5L133.7 61.1L134.7 66.4L135.6 71.9L136.3 77.8L136.9 83.9L137.4 89.6L137.9 94.6L138.3 99.3L138.8 104.0L139.3 108.5L139.8 113.2L140.3 119.0L140.9 126.6L141.5 135.4L142.1 145.0L142.8 155.6L143.6 167.0L144.3 178.0L144.9 187.7L145.5 197.0L146.1 207.0L146.7 218.1L147.2 229.9L147.8 242.0L148.4 254.7L149.0 267.8L149.5 280.0L149.9 290.9L150.3 300.9L150.6 310.0L150.9 318.0L151.2 325.1L151.5 332.0L151.8 339.1L152.1 346.0L152.4 352.0L152.6 357.0L152.8 361.2L152.9 364.0L153.2 374.0L153.5 372.8L153.9 369.8L154.2 365.9L154.6 362.0L154.9 358.2L155.3 354.0L155.7 349.6L156.0 345.0L156.4 339.3L156.8 333.2L157.2 327.3L157.6 322.0L158.0 316.9L158.4 311.9L158.9 307.7L159.3 305.0L159.8 303.2L160.2 301.6L160.7 300.2L161.1 299.1L161.6 298.4L162.0 298.2" stroke="#000" stroke-width="2.5" stroke-dasharray="20 12.6" stroke-dashoffset="0.00"/><path d="M162.0 298.2L162.3 298.4L162.7 298.8L163.0 299.6L163.4 300.7L163.7 302.1L164.1 303.8L164.4 305.9L164.8 308.4L165.1 311.2L165.5 314.3L165.8 317.9L166.2 321.9L166.5 326.4L166.9 331.4L167.2 336.9L167.6 342.9L167.9 349.7L168.3 357.1L168.6 365.4L169.0 374.6L169.3 384.9L169.7 396.6L170.0 409.7L170.4 424.9L170.7 442.6L171.1 463.6L171.4 489.4L171.8 522.3L172.1 567.2L172.5 634.1L172.8 703.0L173.2 642.8L173.5 579.0L173.9 534.9L174.2 502.4L174.6 476.8L175.0 455.9L175.3 438.4L175.7 423.4L176.0 410.4L176.4 398.9L176.7 388.8L177.1 379.7L177.5 371.7L177.8 364.4L178.2 357.9L178.5 352.1L178.9 346.9L179.3 342.2L179.6 338.0L180.0 334.4L180.3 331.1L180.7 328.3L181.0 326.0L181.4 324.0L181.8 322.3L182.1 321.1L182.5 320.2L182.8 319.7L183.2 319.5L183.6 319.6L183.9 319.8L184.3 320.2L184.7 320.7L185.0 321.4L185.4 322.3L185.8 323.2L186.1 324.4L186.5 325.7L186.9 327.2L187.2 328.8L187.6 330.6L188.0 332.6L188.3 334.7L188.7 337.0L189.1 339.4L189.4 342.0L189.8 344.8L190.2 347.7L190.5 350.8L190.9 354.1L191.3 357.5L191.6 361.0L192.0 364.7L192.4 368.5L192.7 372.5L193.1 376.4L193.5 380.5L193.8 384.5L194.2 388.5L194.6 392.4L194.9 396.1L195.3 399.6L195.7 402.7L196.0 405.4L196.4 407.7L196.8 409.3L197.1 410.4L197.5 410.7L197.9 410.0L198.2 407.9L198.6 404.7L198.9 400.5L199.3 395.5L199.7 389.9L200.0 384.1L200.4 378.2L200.8 372.2L201.1 366.3L201.5 360.5L201.8 355.0L202.2 349.7L202.6 344.7L202.9 339.9L203.3 335.4L203.7 331.2L204.0 327.2L204.4 323.6L204.7 320.2L205.1 317.1L205.5 314.2L205.8 311.5L206.2 309.2L206.5 307.0L206.9 305.1L207.3 303.5L207.6 302.0L208.0 300.8L208.4 299.8L208.7 299.1L209.1 298.5L209.4 298.2L209.8 298.1L210.1 298.3L210.5 299.0L210.8 300.0L211.2 301.5L211.5 303.5L211.9 305.9L212.2 308.7L212.5 312.1L212.9 315.9L213.2 320.1L213.6 324.9L213.9 330.2L214.2 336.1L214.6 342.4L214.9 349.2L215.3 356.5L215.6 364.1L215.9 371.9L216.3 379.7L216.6 387.2L217.0 393.9L217.3 399.3L217.7 402.8L218.0 404.0L218.3 402.9L218.7 399.7L219.0 394.8L219.3 388.6L219.7 381.6L220.0 374.3L220.4 366.8L220.7 359.5L221.0 352.5L221.4 345.8L221.7 339.6L222.0 333.8L222.4 328.5L222.7 323.7L223.0 319.3L223.4 315.4L223.7 311.9L224.0 308.8L224.4 306.2L224.7 304.0L225.1 302.3L225.4 300.9L225.7 299.9L226.1 299.3L226.4 299.1L226.7 299.2L227.1 299.6L227.4 300.3L227.7 301.2L228.1 302.3L228.4 303.7L228.7 305.3L229.1 307.1L229.4 309.1L229.7 311.2L230.1 313.4L230.4 315.7L230.7 317.9L231.1 320.2L231.4 322.3L231.7 324.2L232.1 325.9L232.4 327.3L232.7 328.3L233.1 329.0L233.4 329.2L233.7 329.0L234.0 328.3L234.3 327.3L234.7 325.8L235.0 324.1L235.3 322.2L235.6 320.1L235.9 318.0L236.2 315.8L236.6 313.7L236.9 311.7L237.2 309.8L237.5 308.1L237.8 306.6L238.1 305.4L238.5 304.4L238.8 303.7L239.1 303.2L239.4 303.1L239.8 303.2L240.1 303.6L240.5 304.2L240.8 305.1L241.2 306.2L241.5 307.6L241.9 309.2L242.2 311.1L242.6 313.3L242.9 315.7L243.3 318.4L243.6 321.3L244.0 324.5L244.3 328.0L244.7 331.7L245.1 335.6L245.4 339.8L245.8 344.2L246.1 348.8L246.5 353.5L246.8 358.3L247.2 363.1L247.5 367.8L247.9 372.4L248.2 376.6L248.6 380.4L248.9 383.6L249.3 386.0L249.6 387.5L250.0 388.0L250.4 387.4L250.7 385.6L251.1 382.8L251.4 379.2L251.8 374.9L252.1 370.1L252.5 365.0L252.8 359.8L253.2 354.6L253.5 349.5L253.9 344.6L254.2 339.9L254.6 335.4L254.9 331.2L255.3 327.3L255.6 323.8L256.0 320.5L256.3 317.6L256.7 314.9L257.0 312.6L257.4 310.6L257.7 308.9L258.1 307.5L258.4 306.5L258.8 305.7L259.1 305.3L259.5 305.1L259.9 305.2L260.2 305.5L260.6 306.1L260.9 306.8L261.3 307.8L261.7 309.0L262.0 310.4L262.4 312.0L262.8 313.9L263.1 316.0L263.5 318.4L263.8 321.0L264.2 323.9L264.6 327.1L264.9 330.6L265.3 334.3L265.6 338.4L266.0 342.8L266.4 347.5L266.7 352.6L267.1 358.2L267.4 364.1L267.8 370.4L268.2 377.2L268.5 384.4L268.9 392.2L269.2 400.3L269.6 409.0L270.0 418.0L270.3 427.2L270.7 436.5L271.1 445.4L271.4 453.5L271.8 460.1L272.1 464.5L272.5 466.0L272.8 465.7L273.2 464.8L273.5 463.4L273.9 461.5L274.2 459.2L274.5 456.7L274.9 453.9L275.2 451.0L275.5 448.1L275.9 445.3L276.2 442.5L276.6 439.9L276.9 437.4L277.2 435.2L277.6 433.3L277.9 431.6L278.2 430.2L278.6 429.1L278.9 428.3L279.3 427.9L279.6 427.7L279.9 427.8L280.3 428.3L280.6 429.0L280.9 430.0L281.2 431.3L281.6 432.8L281.9 434.6L282.2 436.6L282.6 438.8L282.9 441.2L283.2 443.7L283.5 446.3L283.9 448.9L284.2 451.4L284.5 453.9L284.9 456.1L285.2 458.1L285.5 459.8L285.8 461.0L286.2 461.7L286.5 462.0L286.9 460.5L287.2 456.2L287.6 449.7L287.9 441.7L288.3 432.9L288.7 423.7L289.0 414.7L289.4 405.9L289.8 397.5L290.1 389.5L290.5 382.1L290.8 375.1L291.2 368.7L291.6 362.7L291.9 357.2L292.3 352.1L292.6 347.5L293.0 343.2L293.4 339.4L293.7 335.8L294.1 332.7L294.4 329.9L294.8 327.4L295.2 325.2L295.5 323.3L295.9 321.7L296.3 320.5L296.6 319.5L297.0 318.8L297.3 318.3L297.7 318.2" stroke="#000" stroke-width="2.5" stroke-dasharray="20 12.6" stroke-dashoffset="11.91"/><path d="M297.7 318.2L298.1 318.4L298.4 318.9L298.8 319.7L299.1 321.0L299.5 322.5L299.8 324.5L300.2 326.8L300.5 329.5L300.9 332.6L301.3 336.1L301.6 340.1L302.0 344.6L302.3 349.6L302.7 355.1L303.0 361.3L303.4 368.1L303.7 375.6L304.1 383.9L304.4 393.1L304.8 403.4L305.2 414.7L305.5 427.4L305.9 441.5L306.2 457.1L306.6 474.2L306.9 492.3L307.3 510.0L307.6 523.8L308.0 529.3L308.4 526.8L308.7 519.7L309.1 509.6L309.5 497.9L309.9 485.6L310.2 473.4L310.6 461.7L311.0 450.6L311.3 440.2L311.7 430.6L312.1 421.5L312.4 413.1L312.8 405.3L313.2 397.9L313.6 391.1L313.9 384.7L314.3 378.7L314.7 373.0L315.0 367.7L315.4 362.8L315.8 358.1L316.2 353.7L316.5 349.6L316.9 345.8L317.3 342.1L317.6 338.7L318.0 335.5L318.4 332.5L318.8 329.7L319.1 327.1L319.5 324.6L319.9 322.3L320.2 320.2L320.6 318.2L321.0 316.4L321.4 314.8L321.7 313.3L322.1 311.9L322.5 310.7L322.8 309.6L323.2 308.6L323.6 307.8L323.9 307.1L324.3 306.5L324.7 306.1L325.1 305.8L325.4 305.6L325.8 305.5L326.2 305.6L326.5 306.1L326.9 306.8L327.2 307.9L327.6 309.2L327.9 310.8L328.3 312.8L328.6 315.1L329.0 317.7L329.3 320.6L329.7 323.9L330.0 327.5L330.4 331.6L330.7 336.0L331.1 340.8L331.5 346.0L331.8 351.7L332.2 357.8L332.5 364.4L332.9 371.4L333.2 378.9L333.6 386.7L333.9 394.9L334.3 403.2L334.6 411.4L335.0 419.3L335.3 426.4L335.7 432.0L336.0 435.7L336.4 437.0L336.8 436.0L337.1 433.1L337.5 428.6L337.8 422.9L338.2 416.3L338.5 409.3L338.9 402.0L339.2 394.7L339.6 387.6L339.9 380.7L340.3 374.1L340.6 367.8L341.0 361.9L341.3 356.4L341.7 351.2L342.0 346.3L342.4 341.8L342.7 337.6L343.1 333.8L343.4 330.2L343.8 327.0L344.1 324.1L344.5 321.4L344.8 319.0L345.2 316.9L345.5 315.1L345.9 313.5L346.2 312.1L346.6 311.0L346.9 310.2L347.3 309.6L347.6 309.2L348.0 309.1L348.4 309.2L348.7 309.5L349.1 310.0L349.4 310.7L349.8 311.6L350.1 312.7L350.4 314.0L350.8 315.4L351.2 317.0L351.5 318.8L351.9 320.7L352.2 322.7L352.6 324.9L352.9 327.1L353.2 329.3L353.6 331.6L353.9 333.9L354.3 336.1L354.7 338.2L355.0 340.2L355.4 341.9L355.7 343.4L356.1 344.6L356.4 345.6L356.8 346.1L357.1 346.3L357.5 346.2L357.8 346.0L358.2 345.7L358.5 345.2L358.9 344.6L359.3 343.8L359.6 343.0L360.0 342.0L360.4 341.0L360.7 339.9L361.1 338.7L361.4 337.5L361.8 336.2L362.2 334.9L362.5 333.5L362.9 332.2L363.2 330.8L363.6 329.5L364.0 328.2L364.3 326.9L364.7 325.6L365.1 324.4L365.4 323.2L365.8 322.0L366.1 321.0L366.5 319.9L366.9 319.0L367.2 318.1L367.6 317.2L367.9 316.5L368.3 315.8L368.7 315.2L369.0 314.7L369.4 314.2L369.8 313.9L370.1 313.6L370.5 313.4L370.8 313.2L371.2 313.2L371.6 313.3L371.9 313.7L372.3 314.3L372.6 315.2L373.0 316.3L373.3 317.6L373.7 319.2L374.1 321.1L374.4 323.3L374.8 325.7L375.1 328.4L375.5 331.4L375.8 334.7L376.2 338.3L376.6 342.2L376.9 346.5L377.3 351.1L377.6 356.0L378.0 361.4L378.4 367.1L378.7 373.2L379.1 379.7L379.4 386.5L379.8 393.8L380.1 401.3L380.5 409.0L380.9 416.7L381.2 424.3L381.6 431.4L381.9 437.7L382.3 442.7L382.6 445.9L383.0 447.0L383.3 445.8L383.7 442.3L384.0 437.0L384.3 430.5L384.7 423.2L385.0 415.5L385.3 407.9L385.7 400.6L386.0 393.6L386.3 387.1L386.6 381.1L387.0 375.6L387.3 370.8L387.6 366.4L388.0 362.6L388.3 359.3L388.6 356.6L389.0 354.3L389.3 352.6L389.6 351.4L390.0 350.6L390.3 350.4" stroke="#000" stroke-width="2.5" stroke-dasharray="20 12.6" stroke-dashoffset="21.44"/><path d="M390.3 350.4L390.7 350.6L391.0 351.4L391.4 352.6L391.7 354.4L392.1 356.7L392.4 359.5L392.8 362.9L393.1 366.9L393.4 371.5L393.8 376.8L394.1 382.8L394.5 389.7L394.9 397.4L395.2 406.0L395.6 415.8L395.9 426.8L396.2 439.1L396.6 453.0L396.9 468.5L397.3 485.7L397.6 504.1L398.0 522.1L398.3 536.5L398.7 542.2L399.0 537.4L399.4 525.1L399.7 509.0L400.1 492.0L400.4 475.8L400.8 460.8L401.1 447.2L401.4 434.9L401.8 423.9L402.1 413.9L402.5 404.9L402.8 396.8L403.2 389.4L403.5 382.8L403.8 376.9L404.2 371.5L404.5 366.7L404.9 362.5L405.2 358.7L405.6 355.3L405.9 352.4L406.2 350.0L406.6 347.9L406.9 346.2L407.3 344.9L407.6 344.0L408.0 343.5L408.3 343.3L408.7 343.5L409.0 343.9L409.4 344.7L409.7 345.8L410.1 347.2L410.4 349.0L410.8 351.0L411.1 353.4L411.4 356.1L411.8 359.1L412.1 362.4L412.5 366.0L412.9 369.9L413.2 374.1L413.6 378.5L413.9 383.1L414.2 387.9L414.6 392.7L414.9 397.5L415.3 402.2L415.6 406.7L416.0 410.6L416.3 414.0L416.7 416.6L417.0 418.2L417.4 418.7L417.7 418.4L418.1 417.6L418.4 416.3L418.7 414.5L419.1 412.3L419.4 409.8L419.7 407.1L420.1 404.3L420.4 401.3L420.7 398.4L421.1 395.5L421.4 392.6L421.7 389.9L422.1 387.4L422.4 385.0L422.7 382.9L423.1 381.0L423.4 379.3L423.7 377.8L424.1 376.6L424.4 375.7L424.7 375.0L425.1 374.6L425.4 374.5" stroke="#000" stroke-width="2.5" stroke-dasharray="20 12.6" stroke-dashoffset="7.87"/><path d="M425.4 374.5L425.8 374.6L426.1 375.0L426.5 375.6L426.8 376.4L427.2 377.5L427.5 378.8L427.9 380.4L428.2 382.3L428.6 384.4L428.9 386.8L429.3 389.5L429.6 392.4L430.0 395.7L430.3 399.3L430.7 403.2L431.0 407.5L431.4 412.2L431.8 417.2L432.1 422.7L432.5 428.5L432.8 434.9L433.2 441.7L433.5 449.1L433.9 456.9L434.2 465.3L434.6 474.2L434.9 483.6L435.3 493.3L435.6 503.1L436.0 512.7L436.3 521.4L436.7 528.7L437.0 533.5L437.4 535.2L437.8 533.8L438.1 529.8L438.5 523.6L438.9 516.0L439.2 507.5L439.6 498.6L440.0 489.6L440.3 480.8L440.7 472.2L441.1 464.0L441.4 456.3L441.8 448.9L442.2 441.9L442.6 435.4L442.9 429.2L443.3 423.4L443.7 417.9L444.0 412.7L444.4 407.9L444.8 403.4L445.1 399.1L445.5 395.1L445.9 391.3L446.2 387.8L446.6 384.5L447.0 381.5L447.3 378.6L447.7 375.9L448.1 373.5L448.4 371.2L448.8 369.1L449.2 367.2L449.6 365.4L449.9 363.8L450.3 362.4L450.7 361.1L451.0 360.0L451.4 359.0L451.8 358.2L452.1 357.6L452.5 357.1L452.9 356.7L453.2 356.5L453.6 356.4" stroke="#000" stroke-width="2.5" stroke-dasharray="20 12.6" stroke-dashoffset="9.36"/><path d="M453.6 356.4L453.9 356.7L454.3 357.7L454.6 359.4L454.9 361.8L455.2 364.9L455.6 368.8L455.9 373.5L456.2 379.1L456.6 385.6L456.9 393.2L457.2 402.1L457.5 412.3L457.9 424.1L458.2 438.0L458.5 454.2L458.9 473.7L459.2 497.2L459.5 526.4L459.8 563.0L460.2 605.9L460.5 631.8L460.9 606.3L461.2 563.5L461.6 526.8L461.9 497.2L462.3 473.1L462.7 453.0L463.0 435.8L463.4 421.0L463.7 408.0L464.1 396.4L464.5 386.1L464.8 376.9L465.2 368.5L465.5 361.0L465.9 354.1L466.3 347.8L466.6 342.2L467.0 337.0L467.4 332.3L467.7 328.0L468.1 324.2L468.4 320.7L468.8 317.6L469.2 314.8L469.5 312.4L469.9 310.3L470.2 308.5L470.6 306.9L471.0 305.7L471.3 304.7L471.7 304.0L472.0 303.6L472.4 303.5L472.8 303.6L473.1 303.9L473.5 304.5L473.9 305.2L474.2 306.2L474.6 307.3L474.9 308.7L475.3 310.4L475.7 312.2L476.0 314.3L476.4 316.6L476.8 319.2L477.1 322.1L477.5 325.2L477.9 328.6L478.2 332.3L478.6 336.3L478.9 340.6L479.3 345.3L479.7 350.3L480.0 355.6L480.4 361.4L480.8 367.5L481.1 374.1L481.5 381.0L481.9 388.4L482.2 396.2L482.6 404.4L483.0 412.8L483.3 421.4L483.7 429.9L484.0 437.9L484.4 445.1L484.8 450.9L485.1 454.7L485.5 456.0L485.9 455.3L486.3 453.5L486.7 450.9L487.1 447.9L487.5 444.6L487.9 441.6L488.3 439.0L488.7 436.8L489.1 434.7L489.6 432.7L490.0 430.8L490.4 428.9L490.8 427.0L491.2 425.1L491.6 423.1L492.1 421.0L492.5 418.9L492.9 416.5L493.3 414.0L493.7 411.2L494.1 408.2L494.6 405.0L495.0 401.5L495.4 397.9L495.8 394.0L496.2 389.7L496.6 384.9L497.1 379.7L497.5 374.5L497.9 369.3L498.3 364.5L498.8 359.1L499.3 353.8L499.7 348.6L500.2 343.8L500.7 339.6L501.1 336.2L501.5 332.8L502.0 329.6L502.4 326.5L502.8 323.6L503.2 320.9L503.7 318.5L504.1 316.5L504.5 314.8L504.9 313.4L505.3 312.0L505.7 310.6L506.1 309.4L506.6 308.3L507.0 307.3L507.4 306.6L507.8 306.2L508.2 306.0L508.5 306.2L508.9 306.7L509.2 307.6L509.6 308.9L509.9 310.5L510.3 312.5L510.6 314.8L511.0 317.5L511.3 320.6L511.7 324.1L512.0 327.9L512.4 332.1L512.7 336.6L513.1 341.5L513.4 346.6L513.8 352.1L514.1 357.7L514.5 363.3L514.8 368.9L515.2 374.3L515.5 379.2L515.9 383.5L516.2 386.7L516.6 388.8L516.9 389.5L517.3 389.1L517.6 387.8L518.0 385.8L518.3 383.1L518.7 379.8L519.0 376.0L519.4 372.0L519.7 367.7L520.1 363.3L520.5 358.8L520.8 354.4L521.2 350.0L521.5 345.8L521.9 341.6L522.2 337.7L522.6 333.9L523.0 330.3L523.3 327.0L523.7 323.8L524.0 320.8L524.4 318.1L524.7 315.5L525.1 313.2L525.4 311.1L525.8 309.2L526.2 307.5L526.5 306.0L526.9 304.7L527.2 303.6L527.6 302.7L527.9 302.0L528.3 301.5L528.6 301.2L529.0 301.1L529.4 301.1L529.7 301.3L530.1 301.5L530.5 301.8L530.9 302.3L531.2 302.8L531.6 303.4L532.0 304.1L532.3 304.9L532.7 305.8L533.1 306.7L533.4 307.8L533.8 309.0L534.2 310.3L534.6 311.7L534.9 313.2L535.3 314.8L535.7 316.5L536.0 318.4L536.4 320.3L536.8 322.4L537.1 324.5L537.5 326.8L537.9 329.3L538.3 331.8L538.6 334.5L539.0 337.3L539.4 340.3L539.7 343.4L540.1 346.6L540.5 350.0L540.9 353.6L541.2 357.3L541.6 361.2L542.0 365.2L542.3 369.4L542.7 373.7L543.1 378.2L543.4 382.9L543.8 387.6L544.2 392.6L544.6 397.6L544.9 402.7L545.3 407.8L545.7 412.9L546.0 417.9L546.4 422.8L546.8 427.4L547.1 431.6L547.5 435.3L547.9 438.3L548.3 440.6L548.6 442.0L549.0 442.5L549.4 442.3L549.7 441.9L550.1 441.1L550.4 440.1L550.8 438.8L551.1 437.3L551.5 435.5L551.9 433.6L552.2 431.6L552.6 429.5L552.9 427.3L553.3 425.1L553.6 422.8L554.0 420.6L554.4 418.4L554.7 416.3L555.1 414.2L555.4 412.2L555.8 410.2L556.2 408.4L556.5 406.7L556.9 405.1L557.2 403.7L557.6 402.3L557.9 401.1L558.3 400.0L558.7 399.1L559.0 398.3L559.4 397.7L559.7 397.2L560.1 396.8L560.4 396.6L560.8 396.5L561.1 396.6L561.5 396.8L561.8 397.2L562.2 397.7L562.5 398.4L562.8 399.2L563.2 400.2L563.5 401.3L563.9 402.5L564.2 403.8L564.5 405.2L564.9 406.7L565.2 408.3L565.6 409.9L565.9 411.6L566.3 413.2L566.6 414.9L566.9 416.5L567.3 418.1L567.6 419.5L568.0 420.9L568.3 422.1L568.6 423.1L569.0 423.9L569.3 424.5L569.7 424.9L570.0 425.0L570.4 424.5L570.7 423.1L571.1 420.8L571.4 417.7L571.8 414.0L572.2 409.8L572.5 405.3L572.9 400.5L573.2 395.7L573.6 390.7L574.0 385.9L574.3 381.1L574.7 376.4L575.0 371.9L575.4 367.5L575.8 363.4L576.1 359.4L576.5 355.7L576.8 352.1L577.2 348.8L577.5 345.7L577.9 342.8L578.3 340.1L578.6 337.5L579.0 335.2L579.3 333.1L579.7 331.2L580.1 329.5L580.4 327.9L580.8 326.6L581.1 325.4L581.5 324.4L581.9 323.6L582.2 323.0L582.6 322.6L582.9 322.3L583.3 322.2" stroke="#000" stroke-width="2.5" stroke-dasharray="20 12.6" stroke-dashoffset="31.81"/><path d="M583.3 322.2L583.7 322.3L584.0 322.6L584.4 323.2L584.7 323.9L585.1 324.9L585.4 326.1L585.8 327.6L586.2 329.2L586.5 331.2L586.9 333.3L587.2 335.7L587.6 338.4L587.9 341.4L588.3 344.7L588.7 348.3L589.0 352.2L589.4 356.5L589.7 361.1L590.1 366.2L590.4 371.6L590.8 377.6L591.1 384.1L591.5 391.3L591.9 399.0L592.2 407.6L592.6 417.0L592.9 427.3L593.3 438.9L593.6 451.9L594.0 466.6L594.4 483.4L594.7 503.0L595.1 526.0L595.4 553.4L595.8 585.7L596.1 619.4L596.5 636.7L596.9 625.9L597.2 602.0L597.6 575.8L597.9 551.8L598.3 530.8L598.6 512.4L599.0 496.4L599.4 482.2L599.7 469.7L600.1 458.4L600.4 448.3L600.8 439.1L601.2 430.7L601.5 423.1L601.9 416.1L602.2 409.7L602.6 403.9L603.0 398.5L603.3 393.6L603.7 389.1L604.0 384.9L604.4 381.1L604.7 377.7L605.1 374.5L605.5 371.7L605.8 369.1L606.2 366.8L606.5 364.8L606.9 363.0L607.2 361.5L607.6 360.3L608.0 359.2L608.3 358.4L608.7 357.9L609.0 357.5L609.4 357.4L609.7 357.5L610.1 357.8L610.4 358.2L610.8 358.9L611.1 359.7L611.5 360.7L611.8 361.8L612.2 363.1L612.5 364.6L612.9 366.2L613.2 367.9L613.6 369.7L613.9 371.6L614.2 373.6L614.6 375.5L614.9 377.6L615.3 379.5L615.6 381.4L616.0 383.3L616.3 385.0L616.7 386.5L617.0 387.8L617.4 388.8L617.7 389.6L618.1 390.0L618.4 390.2L618.8 390.1L619.1 389.8L619.5 389.4L619.8 388.8L620.2 388.0L620.5 387.1L620.9 386.1L621.3 384.9L621.6 383.7L622.0 382.4L622.3 381.0L622.7 379.6L623.1 378.2L623.4 376.8L623.8 375.4L624.1 374.0L624.5 372.7L624.8 371.4L625.2 370.1L625.6 369.0L625.9 367.9L626.3 366.9L626.6 366.0L627.0 365.1L627.4 364.4L627.7 363.8L628.1 363.3L628.4 362.9L628.8 362.6L629.1 362.5L629.5 362.4" stroke="#000" stroke-width="2.5" stroke-dasharray="20 12.6" stroke-dashoffset="5.36"/><path d="M629.5 362.4L629.9 362.4L630.3 362.6L630.6 362.8L631.0 363.1L631.4 363.4L631.8 363.9L632.2 364.5L632.5 365.1L632.9 365.8L633.3 366.6L633.7 367.5L634.1 368.5L634.4 369.6L634.8 370.8L635.2 372.0L635.6 373.4L636.0 374.9L636.3 376.4L636.7 378.1L637.1 379.9L637.5 381.8L637.9 383.8L638.2 385.9L638.6 388.1L639.0 390.5L639.4 393.0L639.8 395.6L640.1 398.4L640.5 401.3L640.9 404.3L641.3 407.6L641.6 411.0L642.0 414.5L642.4 418.3L642.8 422.3L643.2 426.4L643.5 430.8L643.9 435.4L644.3 440.3L644.7 445.4L645.1 450.9L645.4 456.6L645.8 462.7L646.2 469.1L646.6 475.9L647.0 483.1L647.3 490.8L647.7 498.9L648.1 507.6L648.5 516.7L648.9 526.4L649.2 536.5L649.6 546.9L650.0 557.5L650.4 567.9L650.8 577.5L651.1 585.4L651.5 590.7L651.9 592.6L652.3 585.0L652.6 566.6L653.0 544.8L653.4 523.6L653.8 504.2L654.1 486.8L654.5 471.3L654.9 457.5L655.2 445.0L655.6 433.7L656.0 423.4L656.4 414.0L656.7 405.3L657.1 397.3L657.5 389.9L657.8 383.1L658.2 376.7L658.6 370.8L658.9 365.2L659.3 360.0L659.7 355.1L660.1 350.6L660.4 346.3L660.8 342.3L661.2 338.6L661.5 335.1L661.9 331.8L662.3 328.7L662.7 325.8L663.0 323.1L663.4 320.6L663.8 318.2L664.1 316.1L664.5 314.1L664.9 312.2L665.2 310.5L665.6 309.0L666.0 307.6L666.4 306.4L666.7 305.2L667.1 304.3L667.5 303.4L667.8 302.7L668.2 302.1L668.6 301.7L669.0 301.4L669.3 301.2L669.7 301.1L670.1 301.1L670.4 301.3L670.8 301.5L671.2 301.8L671.5 302.2L671.9 302.7L672.3 303.2L672.7 303.9L673.0 304.6L673.4 305.5L673.8 306.4L674.1 307.4L674.5 308.5L674.9 309.7L675.2 310.9L675.6 312.3L676.0 313.7L676.3 315.3L676.7 316.9L677.1 318.6L677.5 320.4L677.8 322.2L678.2 324.2L678.6 326.2L678.9 328.3L679.3 330.5L679.7 332.7L680.0 335.0L680.4 337.4L680.8 339.8L681.2 342.2L681.5 344.7L681.9 347.2L682.3 349.7L682.6 352.2L683.0 354.6L683.4 357.1L683.7 359.4L684.1 361.7L684.5 363.9L684.8 365.9L685.2 367.8L685.6 369.5L686.0 370.9L686.3 372.2L686.7 373.2L687.1 373.9L687.4 374.4L687.8 374.5L688.2 374.3L688.5 373.8L688.9 373.0L689.3 371.8L689.6 370.4L690.0 368.7L690.3 366.8L690.7 364.7L691.1 362.4L691.4 360.0L691.8 357.5L692.2 355.0L692.5 352.4L692.9 349.8L693.3 347.2L693.6 344.6L694.0 342.0L694.3 339.5L694.7 337.1L695.1 334.8L695.4 332.5L695.8 330.3L696.2 328.2L696.5 326.2L696.9 324.3L697.2 322.6L697.6 320.9L698.0 319.3L698.3 317.9L698.7 316.5L699.1 315.3L699.4 314.2L699.8 313.2L700.2 312.4L700.5 311.6L700.9 311.0L701.2 310.4L701.6 310.0L702.0 309.7L702.3 309.6L702.7 309.5" stroke="#000" stroke-width="2.5" stroke-dasharray="20 12.6" stroke-dashoffset="16.39"/><path d="M702.7 309.5L703.1 309.6L703.5 309.9L704.0 310.4L704.4 311.0L704.8 311.8L705.2 312.7L705.6 313.9L706.1 315.1L706.5 316.5L706.9 317.9L707.3 319.5L707.7 321.2L708.1 323.0L708.6 324.9L709.0 326.9L709.4 328.9L709.8 331.0L710.2 333.1L710.7 335.3L711.1 337.5L711.5 339.7L711.9 342.2L712.3 345.3L712.8 348.9L713.2 352.8L713.6 357.1L714.0 361.6L714.4 366.3L714.8 371.1L715.2 375.8L715.7 380.5L716.1 385.0L716.5 389.3L716.9 393.4L717.3 397.6L717.8 401.7L718.2 405.8L718.6 410.0L719.0 414.1L719.4 418.2L719.8 422.4L720.2 426.5L720.7 430.7L721.1 434.8L721.5 439.0L721.9 443.2L722.3 447.6L722.7 452.1L723.1 456.7L723.5 461.3L724.0 465.8L724.4 470.2L724.8 474.5L725.2 478.5L725.6 482.3L726.0 485.7L726.4 488.7L726.8 491.4L727.2 493.8L727.6 496.0L728.0 498.1L728.5 500.0L728.9 501.8L729.3 503.5L729.7 505.2L730.1 506.9L730.5 508.6L730.9 510.4L731.4 512.3L731.8 514.4L732.2 516.6L732.6 519.1L733.0 521.8L733.4 525.5L733.9 530.4L734.3 535.9L734.7 541.6L735.1 547.0L735.5 551.4L736.0 554.5L736.4 555.6L736.8 554.7L737.2 552.2L737.6 548.4L738.0 543.7L738.5 538.4L738.9 532.7L739.3 527.1L739.7 521.8L740.1 516.4L740.5 510.5L740.9 504.3L741.4 497.7L741.8 491.1L742.2 484.5L742.6 478.1L743.0 472.0L743.4 466.2L743.8 460.5L744.2 455.0L744.7 449.6L745.1 444.3L745.5 438.9L745.9 433.6L746.3 428.3L746.8 422.9L747.2 417.3L747.6 411.7L748.0 405.9L748.4 399.6L748.8 392.6L749.2 385.3L749.6 378.1L750.1 371.2L750.5 365.0L750.9 359.9L751.3 356.2L751.7 353.4L752.1 350.7L752.5 348.0L752.9 345.5L753.3 343.0L753.8 340.7L754.2 338.5L754.6 336.4L755.0 334.4L755.4 332.5L755.8 330.8L756.2 329.3L756.6 327.9L757.0 326.7L757.5 325.6L757.9 324.7L758.3 324.0L758.7 323.5L759.1 323.2L759.5 323.1" stroke="#000" stroke-width="2.5" stroke-dasharray="20 12.6" stroke-dashoffset="8.67"/><path d="M759.5 323.1L759.9 323.1L760.3 323.2L760.7 323.4L761.1 323.6L761.5 323.8L761.9 324.1L762.3 324.5L762.7 324.9L763.1 325.4L763.5 326.0L763.9 326.5L764.3 327.2L764.7 327.9L765.1 328.6L765.5 329.4L765.9 330.2L766.3 331.1L766.7 332.0L767.1 333.0L767.5 334.0L767.9 335.1L768.3 336.2L768.7 337.3L769.1 338.5L769.5 339.7L769.9 341.4L770.3 343.7L770.7 346.8L771.1 350.4L771.5 354.4L772.0 358.9L772.4 363.7L772.8 368.7L773.2 373.8L773.6 379.0L774.0 384.2L774.4 389.3L774.8 394.6L775.2 400.4L775.6 406.6L776.0 413.0L776.5 419.6L776.9 426.1L777.3 432.7L777.7 439.0L778.1 444.9L778.5 450.2L778.9 455.4L779.4 460.6L779.8 466.3L780.2 472.6L780.6 480.0L781.0 488.7L781.4 502.9L781.8 524.6L782.3 551.4L782.7 580.8L783.1 610.2L783.5 637.4L784.0 659.9L784.4 675.2L784.8 680.8L785.2 675.6L785.6 662.2L785.9 645.0L786.3 627.1L786.7 610.0L787.1 594.1L787.4 579.6L787.8 566.5L788.2 554.4L788.6 543.5L788.9 533.4L789.3 524.1L789.7 515.5L790.1 507.6L790.4 500.2L790.8 493.2L791.2 486.8L791.6 480.7L792.0 475.0L792.3 469.7L792.7 464.7L793.1 459.9L793.5 455.4L793.8 451.2L794.2 447.2L794.6 443.4L795.0 439.9L795.3 436.5L795.7 433.3L796.1 430.3L796.5 427.4L796.8 424.7L797.2 422.2L797.6 419.8L798.0 417.6L798.3 415.5L798.7 413.5L799.1 411.6L799.5 409.9L799.9 408.3L800.2 406.8L800.6 405.4L801.0 404.1L801.4 403.0L801.7 401.9L802.1 401.0L802.5 400.1L802.9 399.4L803.2 398.8L803.6 398.2L804.0 397.8L804.4 397.4L804.7 397.2L805.1 397.0L805.5 397.0L805.9 397.0L806.3 397.0L806.7 397.1L807.2 397.2L807.6 397.3L808.0 397.4L808.4 397.5L808.8 397.7L809.2 397.8L809.6 398.0L810.0 398.2L810.5 398.4L810.9 398.6L811.3 398.8L811.7 399.1L812.1 399.3L812.5 399.5L812.9 399.8L813.3 400.0L813.8 400.3L814.2 400.5L814.6 400.8L815.0 401.0L815.4 401.2L815.8 401.5L816.2 401.8L816.6 402.0L817.0 402.3L817.4 402.6L817.9 403.0L818.3 403.3L818.7 403.6L819.1 404.0L819.5 404.3L819.9 404.7L820.3 405.1L820.7 405.5L821.1 405.9L821.5 406.3L821.9 406.8L822.3 407.2L822.8 407.7L823.2 408.1L823.6 408.6L824.0 409.1L824.4 409.6L824.8 410.1L825.2 410.6L825.6 411.2L826.0 411.8L826.4 412.4L826.8 413.1L827.2 413.9L827.6 414.6L828.0 415.4L828.5 416.2L828.9 417.1L829.3 417.9L829.7 418.7L830.1 419.5L830.5 420.3L830.9 421.0L831.3 421.7L831.7 422.4L832.1 423.1L832.5 423.9L832.9 424.7L833.3 425.5L833.7 426.3L834.1 427.2L834.5 428.0L834.9 428.8L835.3 429.6L835.7 430.4L836.1 431.2L836.5 431.9L836.9 432.6L837.3 433.2L837.7 433.8L838.1 434.4L838.5 434.8L838.9 435.2L839.3 435.6L839.7 435.8L840.1 435.9L840.5 436.0L840.9 435.9L841.3 435.7L841.7 435.3L842.1 434.8L842.5 434.1L842.9 433.4L843.3 432.6L843.7 431.6L844.1 430.7L844.5 429.6L844.9 428.5L845.3 427.4L845.7 426.3L846.1 425.1L846.5 424.0L846.9 422.7L847.3 421.3L847.7 419.7L848.1 418.0L848.5 416.1L849.0 414.1L849.4 412.1L849.8 410.1L850.2 408.0L850.6 406.0L851.0 404.0L851.5 401.8L851.9 399.4L852.4 397.0L852.8 394.6L853.2 392.3L853.7 390.0L854.1 387.9L854.6 385.8L855.0 383.8L855.4 381.8L855.9 379.8L856.3 377.8L856.7 375.9L857.2 373.9L857.6 372.0L858.1 370.0L858.5 368.0L859.0 366.0L859.4 364.0L859.9 362.0L860.3 360.1L860.8 358.3L861.2 356.7L861.6 355.2L862.0 353.6L862.4 352.1L862.8 350.6L863.2 349.1L863.6 347.7L864.0 346.2L864.4 344.8L864.8 343.4L865.2 342.1L865.6 340.7L866.0 339.4L866.4 338.0L866.9 336.5L867.3 335.1L867.7 333.7L868.2 332.4L868.6 331.1L869.0 329.9L869.5 328.7L869.9 327.7L870.3 326.7L870.8 325.8L871.2 324.9L871.6 324.0L872.0 323.2L872.5 322.4L872.9 321.6L873.3 320.9L873.7 320.2L874.1 319.6L874.6 319.0L875.0 318.5L875.4 318.0L875.9 317.5L876.3 317.0L876.7 316.5L877.1 316.0L877.5 315.5L878.0 315.1L878.4 314.7L878.8 314.3L879.2 313.9L879.7 313.6L880.1 313.3L880.5 313.1L880.9 312.9L881.4 312.8L881.8 312.8L882.2 312.8L882.6 312.9L883.0 312.9L883.5 313.0L883.9 313.1L884.3 313.3L884.7 313.4L885.1 313.6L885.5 313.8L885.9 314.0L886.3 314.2L886.8 314.4L887.2 314.6L887.6 314.8L888.0 315.0L888.4 315.2L888.8 315.5L889.2 315.7L889.6 316.0L890.0 316.3L890.4 316.6L890.9 316.9L891.3 317.3L891.7 317.7L892.1 318.1L892.5 318.5L892.9 318.9L893.3 319.3L893.7 319.7L894.1 320.2L894.5 320.7L894.9 321.3L895.3 321.8L895.8 322.4L896.2 323.0L896.6 323.6L897.0 324.3L897.4 324.9L897.8 325.6L898.2 326.3L898.6 327.1L899.0 327.8L899.4 328.6L899.8 329.4L900.2 330.2L900.6 331.0L901.1 331.8L901.5 332.7L901.9 333.5L902.3 334.4L902.7 335.3L903.1 336.2L903.5 337.2L903.9 338.2L904.3 339.3L904.7 340.5L905.1 341.7L905.6 342.9L906.0 344.2L906.4 345.4L906.8 346.7L907.2 348.0L907.6 349.2L908.0 350.5L908.4 351.7L908.9 353.0L909.3 354.3L909.7 355.7L910.1 357.0L910.5 358.3L911.0 359.6L911.4 360.9L911.8 362.3L912.2 363.6L912.7 364.9L913.1 366.1L913.5 367.4L913.9 368.6L914.3 369.7L914.7 370.9L915.1 372.0L915.5 373.0L916.0 374.2L916.4 375.3L916.8 376.5L917.2 377.7L917.6 379.0L918.0 380.4L918.4 381.9L918.8 383.4L919.2 385.1L919.6 386.8L920.0 388.6L920.4 390.5L920.8 392.4L921.2 394.3L921.6 396.3L922.0 398.2L922.4 400.2L922.8 402.1L923.2 404.0L923.6 405.9L924.0 407.9L924.4 409.8L924.8 411.8L925.2 413.7L925.7 415.7L926.1 417.7L926.5 419.7L926.9 421.8L927.3 423.8L927.7 425.9L928.1 428.0L928.5 430.2L928.9 432.3L929.3 434.5L929.8 436.8L930.2 439.0L930.6 441.3L931.0 443.6L931.4 445.9L931.8 448.2L932.2 450.5L932.7 452.9L933.1 455.2L933.5 457.6L933.9 460.0L934.3 462.5L934.7 465.1L935.2 467.8L935.6 470.5L936.0 473.3L936.4 476.0L936.8 478.7L937.2 481.3L937.7 483.7L938.1 485.9L938.5 488.0L938.9 489.9L939.3 491.8L939.7 493.6L940.2 495.3L940.6 497.1L941.0 498.7L941.4 500.3L941.8 501.8L942.2 503.2L942.7 504.5L943.1 505.8L943.5 506.9L943.9 508.0L944.3 509.0L944.7 510.0L945.1 511.0L945.5 512.0L946.0 513.0L946.4 514.0L946.8 515.0L947.2 515.9L947.6 516.8L948.0 517.6L948.4 518.4L948.8 519.2L949.2 519.9L949.6 520.5L950.0 521.0L950.5 521.5L950.9 521.8L951.3 522.1L951.7 522.2L952.1 522.3L952.5 522.3L952.9 522.2L953.3 522.1L953.7 522.0L954.1 521.8L954.5 521.6L954.9 521.4L955.3 521.1L955.7 520.8L956.1 520.5L956.5 520.2L956.9 519.8L957.3 519.4L957.7 519.0L958.1 518.6L958.5 518.2L958.9 517.8L959.3 517.3L959.7 516.9L960.1 516.4L960.5 516.0L960.9 515.5L961.3 515.1L961.7 514.6L962.1 514.2L962.5 513.7L962.9 513.3L963.3 512.9L963.7 512.5L964.1 512.1L964.5 511.7L964.9 511.2L965.4 510.8L965.8 510.3L966.2 509.8L966.6 509.3L967.0 508.8L967.4 508.3L967.8 507.8L968.2 507.2L968.7 506.7L969.1 506.2L969.5 505.7L969.9 505.1L970.3 504.6L970.7 504.1L971.1 503.5L971.6 503.0L972.0 502.5L972.4 502.0L972.8 501.5L973.2 501.0L973.6 500.6L974.0 500.1L974.4 499.6L974.9 499.2L975.3 498.8L975.7 498.4L976.1 498.0L976.5 497.6L976.9 497.3L977.3 496.9L977.8 496.5L978.2 496.2L978.6 495.8L979.0 495.5L979.4 495.1L979.8 494.8L980.3 494.4L980.7 494.1L981.1 493.8L981.5 493.4L981.9 493.1L982.3 492.8L982.7 492.5L983.2 492.2L983.6 492.0L984.0 491.7L984.4 491.4L984.8 491.1L985.2 490.9L985.7 490.7L986.1 490.4L986.5 490.2L986.9 490.0L987.3 489.8L987.7 489.6L988.1 489.4L988.5 489.2L988.9 489.0L989.3 488.8L989.7 488.7L990.1 488.5L990.5 488.3L990.9 488.1L991.3 488.0L991.8 487.8L992.2 487.6L992.6 487.4L993.0 487.3L993.4 487.1L993.8 487.0L994.2 486.8L994.6 486.7L995.0 486.5L995.4 486.4L995.8 486.2L996.2 486.1L996.6 485.9L997.0 485.8L997.4 485.7L997.8 485.5L998.2 485.4L998.6 485.3L999.0 485.1L999.4 485.0L999.8 484.9L1000.2 484.8L1000.7 484.7L1001.1 484.6L1001.5 484.4L1001.9 484.3L1002.3 484.2L1002.7 484.1L1003.1 484.0L1003.5 483.9L1003.9 483.9L1004.3 483.8L1004.7 483.7L1005.1 483.6L1005.5 483.5L1005.9 483.4L1006.3 483.4L1006.7 483.3L1007.1 483.2L1007.5 483.1L1007.9 483.0L1008.3 482.9L1008.7 482.9L1009.1 482.8L1009.5 482.7L1009.9 482.6L1010.3 482.6L1010.8 482.5L1011.2 482.4L1011.6 482.4L1012.0 482.3L1012.4 482.3L1012.8 482.2L1013.2 482.2L1013.6 482.1L1014.0 482.1L1014.4 482.1" stroke="#000" stroke-width="2.5" stroke-dasharray="20 12.6" stroke-dashoffset="2.47"/></g><text x="126.5" y="777.5" font-size="36" text-anchor="middle">0</text><text x="225.2" y="777.5" font-size="36" text-anchor="middle">10</text><text x="323.8" y="777.5" font-size="36" text-anchor="middle">20</text><text x="422.5" y="777.5" font-size="36" text-anchor="middle">30</text><text x="521.2" y="777.5" font-size="36" text-anchor="middle">40</text><text x="619.8" y="777.5" font-size="36" text-anchor="middle">50</text><text x="718.5" y="777.5" font-size="36" text-anchor="middle">60</text><text x="817.2" y="777.5" font-size="36" text-anchor="middle">70</text><text x="915.8" y="777.5" font-size="36" text-anchor="middle">80</text><text x="1014.5" y="777.5" font-size="36" text-anchor="middle">90</text><text x="112" y="52.6" font-size="36" text-anchor="end">0</text><text x="112" y="191.1" font-size="36" text-anchor="end">-10</text><text x="112" y="329.6" font-size="36" text-anchor="end">-20</text><text x="112" y="468.1" font-size="36" text-anchor="end">-30</text><text x="112" y="606.6" font-size="36" text-anchor="end">-40</text><text x="112" y="745.1" font-size="36" text-anchor="end">-50</text><text x="569.5" y="827.5" font-size="39" text-anchor="middle">Angle(°)</text><text transform="translate(48.5 386.5) rotate(-90)" font-size="39" text-anchor="middle">Pattern(dB)</text><rect x="752.5" y="39.5" width="262" height="86" fill="#fff" stroke="#333" stroke-width="1"/><line x1="760.7" y1="63" x2="842.5" y2="63" stroke="#ff0000" stroke-width="5"/><line x1="760.7" y1="102.4" x2="842.5" y2="102.4" stroke="#000" stroke-width="2.5" stroke-dasharray="20.1 12.5"/><text x="850" y="73.9" font-size="32.5">RL</text><text x="850" y="113" font-size="32.5">Without RL</text></svg>
</body></html>
